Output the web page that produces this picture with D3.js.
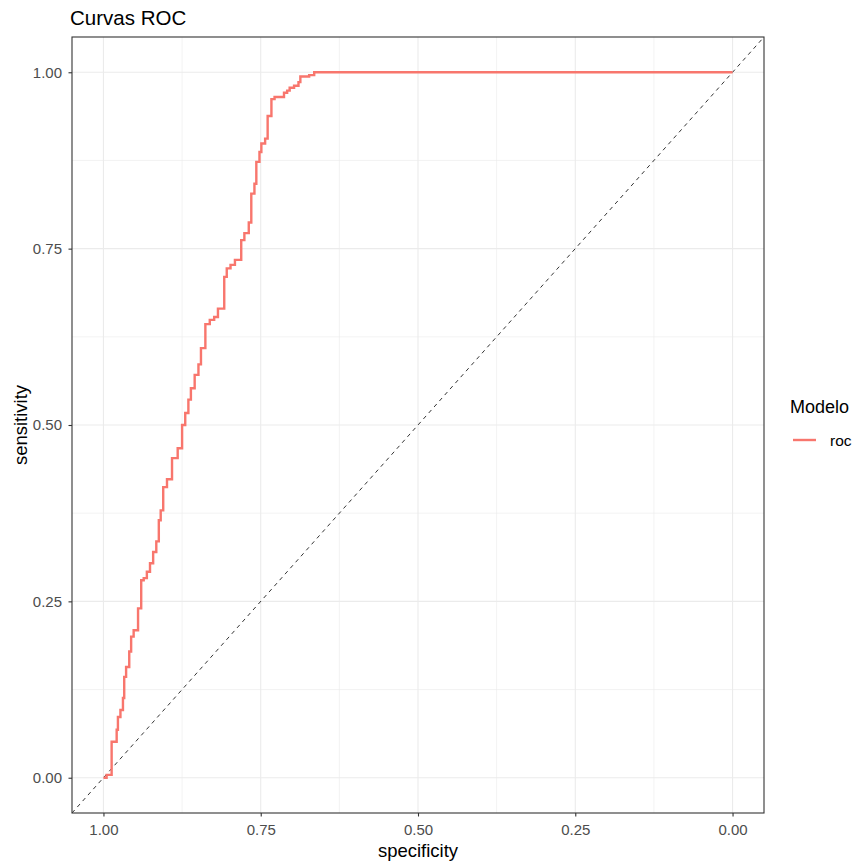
<!DOCTYPE html>
<meta charset="utf-8">
<style>
body { margin: 0; background: #fff; }
text { font-family: "Liberation Sans", Arial, sans-serif; }
</style>
<body>
<script src="https://d3js.org/d3.v7.min.js"></script>
<script>

// roc curve points (specificity, sensitivity), step after each point
var specificity = [1, 0.995, 0.987, 0.979, 0.977, 0.973, 0.969, 0.967, 0.964, 0.959, 0.956, 0.952, 0.945, 0.940, 0.936, 0.931, 0.926, 0.921, 0.916, 0.912,
  0.909, 0.905, 0.899, 0.891, 0.882, 0.875, 0.870, 0.865, 0.861, 0.855, 0.849, 0.845, 0.838, 0.831, 0.824, 0.818, 0.808, 0.804, 0.798, 0.791,
  0.781, 0.776, 0.769, 0.765, 0.760, 0.757, 0.752, 0.749, 0.743, 0.739, 0.733, 0.728, 0.713, 0.708, 0.704, 0.697, 0.690, 0.687, 0.673, 0.665, 0];
var sensitivity = [0, 0.004, 0.051, 0.068, 0.086, 0.096, 0.113, 0.143, 0.157, 0.179, 0.200, 0.209, 0.240, 0.280, 0.283, 0.292, 0.304, 0.320, 0.335, 0.365,
  0.379, 0.412, 0.423, 0.453, 0.467, 0.500, 0.517, 0.536, 0.552, 0.571, 0.586, 0.609, 0.643, 0.649, 0.653, 0.665, 0.710, 0.722, 0.727, 0.734,
  0.762, 0.772, 0.787, 0.828, 0.842, 0.873, 0.887, 0.899, 0.906, 0.938, 0.962, 0.965, 0.971, 0.974, 0.978, 0.981, 0.986, 0.994, 0.996, 1.0, 1.0];

var xTicks = [1, 0.75, 0.5, 0.25, 0];
var yTicks = [0, 0.25, 0.5, 0.75, 1];
var xMinor = [0.875, 0.625, 0.375, 0.125];
var yMinor = [0.125, 0.375, 0.625, 0.875];
var seriesName = "roc";
var legendTitle = "Modelo";

var W = 854, H = 863;
var panel = {left: 72, right: 764, top: 37, bottom: 813};

var svg = d3.select("body").append("svg")
    .attr("width", W)
    .attr("height", H);

var x = d3.scaleLinear().domain([1.05, -0.05]).range([panel.left, panel.right]);
var y = d3.scaleLinear().domain([-0.05, 1.05]).range([panel.bottom, panel.top]);

// grid
svg.append("g").selectAll("line").data(xMinor).enter().append("line")
  .attr("x1", d => x(d)).attr("x2", d => x(d))
  .attr("y1", panel.top).attr("y2", panel.bottom)
  .attr("stroke", "#ebebeb").attr("stroke-width", 0.6);
svg.append("g").selectAll("line").data(yMinor).enter().append("line")
  .attr("y1", d => y(d)).attr("y2", d => y(d))
  .attr("x1", panel.left).attr("x2", panel.right)
  .attr("stroke", "#ebebeb").attr("stroke-width", 0.6);
svg.append("g").selectAll("line").data(xTicks).enter().append("line")
  .attr("x1", d => x(d)).attr("x2", d => x(d))
  .attr("y1", panel.top).attr("y2", panel.bottom)
  .attr("stroke", "#ebebeb").attr("stroke-width", 1.1);
svg.append("g").selectAll("line").data(yTicks).enter().append("line")
  .attr("y1", d => y(d)).attr("y2", d => y(d))
  .attr("x1", panel.left).attr("x2", panel.right)
  .attr("stroke", "#ebebeb").attr("stroke-width", 1.1);

// diagonal reference
svg.append("line")
  .attr("x1", x(1.05)).attr("y1", y(-0.05))
  .attr("x2", x(-0.05)).attr("y2", y(1.05))
  .attr("stroke", "#000").attr("stroke-width", 0.8)
  .attr("stroke-dasharray", "4,4");

// roc curve
var pts = specificity.map((s, i) => [s, sensitivity[i]]);
var line = d3.line()
  .x(d => x(d[0])).y(d => y(d[1]))
  .curve(d3.curveStepAfter);
svg.append("path")
  .datum(pts)
  .attr("d", line)
  .attr("fill", "none")
  .attr("stroke", "#F8766D")
  .attr("stroke-width", 2.4);

// panel border
svg.append("rect")
  .attr("x", panel.left).attr("y", panel.top)
  .attr("width", panel.right - panel.left)
  .attr("height", panel.bottom - panel.top)
  .attr("fill", "none").attr("stroke", "#333333").attr("stroke-width", 1.1);

// axes
var xAxis = svg.append("g")
  .attr("transform", "translate(0," + panel.bottom + ")")
  .call(d3.axisBottom(x).tickValues(xTicks).tickFormat(d3.format(".2f")).tickSize(3.5).tickPadding(8));
var yAxis = svg.append("g")
  .attr("transform", "translate(" + panel.left + ",0)")
  .call(d3.axisLeft(y).tickValues(yTicks).tickFormat(d3.format(".2f")).tickSize(3.5).tickPadding(6.5));
[xAxis, yAxis].forEach(function(a) {
  a.select(".domain").remove();
  a.selectAll(".tick line").attr("stroke", "#333333").attr("stroke-width", 1.1);
  a.selectAll(".tick text").attr("fill", "#4d4d4d")
    .style("font-size", "15px").style("font-family", "Liberation Sans, Arial, sans-serif");
});

// titles
svg.append("text")
  .attr("x", 70).attr("y", 25)
  .style("font-size", "20.5px").attr("fill", "#000")
  .text("Curvas ROC");
svg.append("text")
  .attr("x", (panel.left + panel.right) / 2).attr("y", 857)
  .attr("text-anchor", "middle")
  .style("font-size", "18.5px")
  .text("specificity");
svg.append("text")
  .attr("transform", "translate(27," + ((panel.top + panel.bottom) / 2) + ") rotate(-90)")
  .attr("text-anchor", "middle")
  .style("font-size", "18.5px")
  .text("sensitivity");

// legend
svg.append("text")
  .attr("x", 790).attr("y", 413)
  .style("font-size", "18px")
  .text(legendTitle);
svg.append("line")
  .attr("x1", 793).attr("x2", 816)
  .attr("y1", 440).attr("y2", 440)
  .attr("stroke", "#F8766D").attr("stroke-width", 2.4);
svg.append("text")
  .attr("x", 830).attr("y", 446)
  .style("font-size", "15.5px")
  .text(seriesName);

</script>
</body>
